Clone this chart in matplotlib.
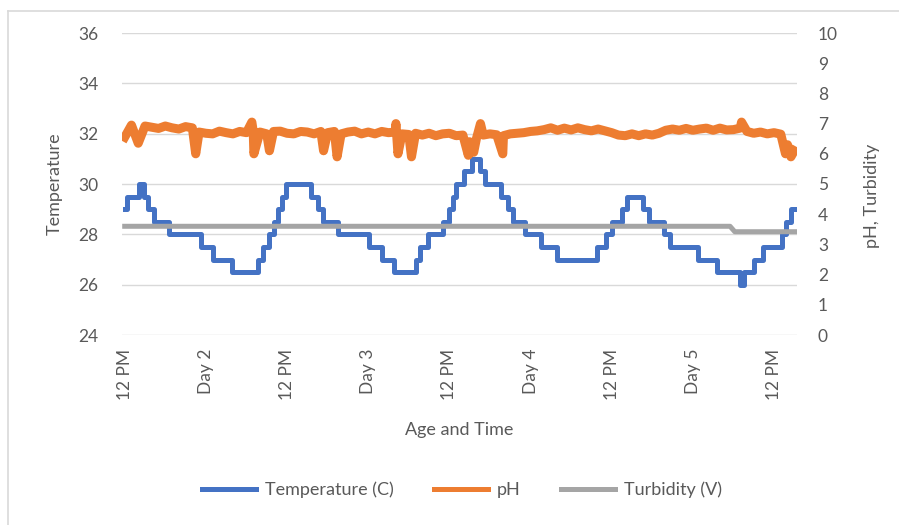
import matplotlib
matplotlib.use("Agg")
import matplotlib.pyplot as plt
import numpy as np

# temperature steps: hour at which each level starts (last entry = end of data)
temp_hours = [0, 0.3, 2.1, 2.9, 3.5, 4.3, 6.5, 11.3, 13.1, 15.8,
              19.7, 20.5, 21.4, 22.1, 22.7, 23.3, 23.9, 27.5, 28.6, 29.3,
              31.5, 36.1, 38.0, 39.8, 43.0, 43.7, 44.9, 47.1, 47.9, 48.5,
              49.0, 50.1, 51.4, 52.6, 53.2, 55.7, 56.7, 57.4, 59.2, 61.6,
              63.9, 69.8, 71.1, 72.0, 73.5, 74.2, 76.7, 77.5, 79.7, 80.6,
              84.7, 87.5, 91.0, 91.6, 93.1, 94.3, 97.2, 97.8, 98.5, 99.3]
temp_values = [29, 29.5, 30, 29.5, 29, 28.5, 28, 27.5, 27, 26.5,
               27, 27.5, 28, 28.5, 29, 29.5, 30, 29.5, 29, 28.5,
               28, 27.5, 27, 26.5, 27, 27.5, 28, 28.5, 29, 29.5,
               30, 30.5, 31, 30.5, 30, 29.5, 29, 28.5, 28, 27.5,
               27, 27.5, 28, 28.5, 29, 29.5, 29, 28.5, 28, 27.5,
               27, 26.5, 26, 26.5, 27, 27.5, 28, 28.5, 29, 29]

# pH, hourly readings (hour 0..99)
ph_hourly = [6.55, 6.95, 6.35, 6.92, 6.88, 6.84, 6.92, 6.86, 6.82, 6.9,
             6.86, 6.72, 6.68, 6.66, 6.75, 6.7, 6.66, 6.74, 6.7, 6.75,
             6.72, 6.66, 6.74, 6.75, 6.68, 6.66, 6.74, 6.72, 6.66, 6.74,
             6.7, 6.74, 6.66, 6.72, 6.75, 6.66, 6.72, 6.66, 6.74, 6.7,
             6.72, 6.66, 6.64, 6.68, 6.62, 6.68, 6.6, 6.66, 6.68, 6.6,
             6.62, 6.4, 6.5, 6.62, 6.66, 6.63, 6.6, 6.66, 6.68, 6.7,
             6.74, 6.76, 6.8, 6.86, 6.78, 6.85, 6.79, 6.86, 6.8, 6.76,
             6.82, 6.76, 6.7, 6.62, 6.6, 6.66, 6.6, 6.66, 6.62, 6.68,
             6.78, 6.82, 6.78, 6.84, 6.78, 6.82, 6.85, 6.78, 6.85, 6.79,
             6.8, 6.85, 6.74, 6.68, 6.72, 6.66, 6.7, 6.65, 6.3, 6.1]
# short pH spikes / dips between hourly readings
ph_dip_hours = [10.5, 18.8, 19.1, 21.4, 29.4, 31.4, 40.1, 40.4, 42.4,
                50.8, 51.6, 52.6, 55.9, 91.2, 97.7, 98.5]
ph_dip_values = [6.0, 7.05, 6.0, 6.1, 6.1, 5.9, 7.0, 6.0, 5.9,
                 5.95, 6.05, 7.0, 6.0, 7.05, 6.0, 5.9]

turb_hours = [0, 89.5, 90.2, 99.3]
turb_values = [3.6, 3.6, 3.42, 3.42]

tick_hours = [0, 12, 24, 36, 48, 60, 72, 84, 96]
tick_labels = ["12 PM", "Day 2", "12 PM", "Day 3", "12 PM", "Day 4", "12 PM", "Day 5", "12 PM"]

plt.rcParams['font.family'] = ['Lato', 'DejaVu Sans']
txt = '#595959'

fig = plt.figure(figsize=(8.99, 5.25), dpi=100)
ax = fig.add_axes([122 / 899, 1 - 335 / 525, 675 / 899, 302 / 525])
ax2 = ax.twinx()

# frame of the chart area
fig.add_artist(plt.Line2D([8 / 899, 1], [1 - 11 / 525] * 2, color='#d9d9d9', lw=1.2))
fig.add_artist(plt.Line2D([8 / 899] * 2, [0, 1 - 11 / 525], color='#d9d9d9', lw=1.2))

ph_h = list(range(len(ph_hourly))) + ph_dip_hours
ph_v = ph_hourly + ph_dip_values
order = np.argsort(ph_h)
ph_h = np.array(ph_h)[order]
ph_v = np.array(ph_v)[order]

l1, = ax.step(temp_hours, temp_values, where='post', color='#4472C4', lw=3.6,
              label='Temperature (C)')
l2, = ax2.plot(ph_h, ph_v, color='#ED7D31', lw=6.5, label='pH', solid_joinstyle='round')
l3, = ax2.plot(turb_hours, turb_values, color='#A5A5A5', lw=3.6, label='Turbidity (V)')

ax.set_xlim(-0.4, 99.4)
ax.set_ylim(24, 36)
ax.set_yticks(range(24, 37, 2))
ax2.set_ylim(0, 10)
ax2.set_yticks(range(0, 11))
ax.grid(axis='y', color='#d9d9d9', lw=1)
ax.set_axisbelow(True)
ax.set_xticks(tick_hours)
ax.set_xticklabels(tick_labels, rotation=90)

for a in (ax, ax2):
    for s in a.spines.values():
        s.set_visible(False)
    a.tick_params(length=0, labelcolor=txt, labelsize=12.5)
ax.tick_params(axis='x', pad=10)
ax.tick_params(axis='y', pad=17)
ax2.tick_params(axis='y', pad=15)

ax.set_ylabel('Temperature', color=txt, fontsize=13)
ax.yaxis.set_label_coords(-0.088, 0.5)
ax2.set_ylabel('pH, Turbidity', color=txt, fontsize=13)
ax2.yaxis.set_label_coords(1.1, 0.46)
ax.set_xlabel('Age and Time', color=txt, fontsize=13, labelpad=16)

leg = fig.legend(handles=[l1, l2, l3], loc='center', bbox_to_anchor=(462 / 899, 1 - 490 / 525),
                 ncol=3, frameon=False, fontsize=13, handlelength=3.0, handletextpad=0.5,
                 columnspacing=2.2, labelcolor=txt)
for h in leg.get_lines():
    h.set_linewidth(3.6)

fig.savefig('out.png', dpi=100)
